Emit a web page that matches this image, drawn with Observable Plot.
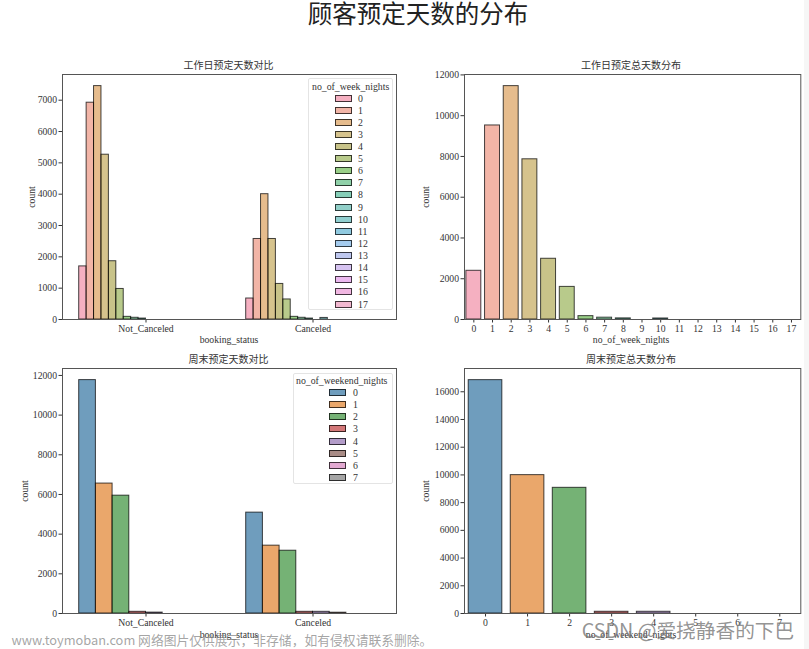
<!DOCTYPE html>
<html><head><meta charset="utf-8">
<script src="https://cdn.jsdelivr.net/npm/d3@7"></script>
<script src="https://cdn.jsdelivr.net/npm/@observablehq/plot@0.6"></script>
<style>
html,body{margin:0;padding:0;background:#fff}
#page{position:relative;width:809px;height:649px;overflow:hidden;font-family:"Liberation Serif","Noto Sans CJK SC",serif;color:#333}
#page svg{position:absolute;background:transparent;overflow:visible}
.t{position:absolute;white-space:nowrap;transform:translate(-50%,-50%);line-height:1}
.legend{position:absolute;background:rgba(255,255,255,.85);border:1px solid #e4e4e4;border-radius:2px;box-sizing:border-box}
.legend .sw{position:absolute;box-sizing:border-box;height:7px;width:17px;border:1px solid rgba(0,0,0,.72)}
.legend .lb,.legend .ttl{position:absolute;font-size:9.8px;line-height:1;white-space:nowrap;color:#333}
</style></head>
<body><div id="page"></div>
<script>
const statuses = ["Not_Canceled", "Canceled"];
const weekNights = ["0","1","2","3","4","5","6","7","8","9","10","11","12","13","14","15","16","17"];
const weekendNights = ["0","1","2","3","4","5","6","7"];

const weekNotCanceled = [1695,6920,7450,5260,1860,975,85,55,30,0,0,0,0,0,0,0,0,0];
const weekCanceled    = [670,2570,4000,2570,1135,640,85,55,30,0,50,0,0,0,0,0,0,0];
const weekTotal       = [2390,9520,11450,7860,2980,1600,165,90,55,0,50,0,0,0,0,0,0,0];

const weekendNotCanceled = [11765,6550,5940,85,45,0,0,0];
const weekendCanceled    = [5085,3420,3165,85,85,40,0,0];
const weekendTotal       = [16840,9985,9070,125,125,0,0,0];

const weekColors = ["#ec6f8e","#e7795f","#d18530","#b5922f","#9a9128","#7e9e2b","#45a727","#34ab63","#22a77d","#36a79a","#36a7aa","#349fc6","#5aa0e0","#8999e2","#b491e6","#db7de2","#e67ccb","#e87da9"];
const weekendColors = ["#3274a1","#e1812c","#3a923a","#c03d3e","#9372b2","#845b53","#d684bd","#7f7f7f"];

const weekTicks = [0,1000,2000,3000,4000,5000,6000,7000];
const weekTotalTicks = [0,2000,4000,6000,8000,10000,12000];
const weekendTicks = [0,2000,4000,6000,8000,10000,12000];
const weekendTotalTicks = [0,2000,4000,6000,8000,10000,12000,14000,16000];

const FONT = '"Liberation Serif","Noto Sans CJK SC",serif';
const TICK = 9.7;
const page = document.getElementById("page");
const PANEL = {w: 405, h: 290};

function place(svg, left, top) {
  svg.style.left = left + "px";
  svg.style.top = top + "px";
  page.appendChild(svg);
}
function text(s, x, y, size, extra) {
  const d = document.createElement("div");
  d.className = "t";
  d.textContent = s;
  d.style.cssText = `left:${x}px;top:${y}px;font-size:${size}px;` + (extra || "");
  page.appendChild(d);
}
const common = (left, right) => ({
  width: PANEL.w, height: PANEL.h,
  marginLeft: left, marginRight: right, marginTop: 19, marginBottom: 26,
  style: {fontFamily: FONT, fontSize: TICK + "px", color: "#333", background: "transparent"}
});
const barStyle = a => ({stroke: "#000", strokeOpacity: 0.72, strokeWidth: 1, fillOpacity: a, inset: 0});

function grouped(keys, colors, alpha, a, b, yMax, ticks, padOuter, labelOff, left, top) {
  const rows = [];
  keys.forEach((k, i) => {
    if (a[i] > 0) rows.push({status: statuses[0], k, v: a[i]});
    if (b[i] > 0) rows.push({status: statuses[1], k, v: b[i]});
  });
  const svg = Plot.plot({
    ...common(61.5, 8),
    fx: {domain: statuses, padding: 0, label: null},
    x: {domain: keys, axis: null, paddingInner: 0, paddingOuter: padOuter, round: false},
    y: {domain: [0, yMax]},
    color: {domain: keys, range: colors},
    marks: [
      Plot.barY(rows, {fx: "status", x: "k", y: "v", fill: "k", ...barStyle(alpha)}),
      Plot.axisFx({anchor: "bottom", tickSize: 3.5, tickPadding: 2, label: null, fontSize: TICK}),
      Plot.axisY({ticks, tickSize: 3.5, tickPadding: 2, label: "count", labelAnchor: "center", labelArrow: "none", labelOffset: labelOff, tickFormat: d => String(d), fontSize: TICK}),
      Plot.frame({facet: "super", stroke: "#555", strokeWidth: 1})
    ]
  });
  place(svg, left, top);
}
function simple(keys, colors, alpha, vals, yMax, ticks, labelOff, left, top) {
  const rows = keys.map((k, i) => ({k, v: vals[i]})).filter(d => d.v > 0);
  const svg = Plot.plot({
    ...common(59, 9.7),
    x: {domain: keys, paddingInner: 0.2, paddingOuter: 0.1, round: false},
    y: {domain: [0, yMax]},
    color: {domain: keys, range: colors},
    marks: [
      Plot.barY(rows, {x: "k", y: "v", fill: "k", ...barStyle(alpha)}),
      Plot.axisX({tickSize: 3.5, tickPadding: 2, label: null, fontSize: TICK}),
      Plot.axisY({ticks, tickSize: 3.5, tickPadding: 2, label: "count", labelAnchor: "center", labelArrow: "none", labelOffset: labelOff, tickFormat: d => String(d), fontSize: TICK}),
      Plot.frame({stroke: "#555", strokeWidth: 1})
    ]
  });
  place(svg, left, top);
}
function legend(title, keys, colors, alpha, box, titleY, firstY, stepY, swX, lbX, titleX) {
  const L = document.createElement("div");
  L.className = "legend";
  L.style.cssText = `left:${box[0]}px;top:${box[1]}px;width:${box[2]}px;height:${box[3]}px;`;
  const t = document.createElement("div");
  t.className = "ttl"; t.textContent = title;
  t.style.left = titleX + "px"; t.style.top = (titleY - 4.5) + "px";
  L.appendChild(t);
  keys.forEach((k, i) => {
    const y = firstY + i * stepY;
    const s = document.createElement("div");
    s.className = "sw";
    s.style.left = swX + "px"; s.style.top = (y - 3.5) + "px";
    s.style.background = d3.color(colors[i]).copy({opacity: alpha}).formatRgb();
    L.appendChild(s);
    const l = document.createElement("div");
    l.className = "lb"; l.textContent = k;
    l.style.left = lbX + "px"; l.style.top = (y - 4.5) + "px";
    L.appendChild(l);
  });
  page.appendChild(L);
}

grouped(weekNights, weekColors, 0.55, weekNotCanceled, weekCanceled, 7820, weekTicks, 2.25, 34, 0, 55);
simple(weekNights, weekColors, 0.55, weekTotal, 12020, weekTotalTicks, 42, 405, 55);
grouped(weekendNights, weekendColors, 0.7, weekendNotCanceled, weekendCanceled, 12350, weekendTicks, 1, 41, 0, 349);
simple(weekendNights, weekendColors, 0.7, weekendTotal, 17680, weekendTotalTicks, 42, 405, 349);

legend("no_of_week_nights", weekNights, weekColors, 0.55, [307.5, 78, 85.5, 232], 7.5, 19, 12.12, 26.5, 49.5, 3.5);
legend("no_of_weekend_nights", weekendNights, weekendColors, 0.7, [293, 372.5, 99.5, 111.5], 6.5, 18.8, 12.2, 35, 59, 2);

text("顾客预定天数的分布", 418, 15, 24.5, "color:#222;");
text("工作日预定天数对比", 228.5, 66, 10);
text("工作日预定总天数分布", 631, 66, 10);
text("周末预定天数对比", 228.5, 360, 10);
text("周末预定总天数分布", 631, 360, 10);
text("booking_status", 229, 340, TICK);
text("no_of_week_nights", 631, 340, TICK);
text("booking_status", 229, 635, TICK);
text("no_of_weekend_nights", 631, 635, TICK);

text("www.toymoban.com 网络图片仅供展示，非存储，如有侵权请联系删除。", 222, 640, 12.8, 'font-family:"Noto Sans CJK SC","Noto Sans",sans-serif;color:rgba(130,130,130,.72);');
text("CSDN @爱挠静香的下巴", 688, 630, 19.7, 'font-family:"Noto Sans CJK SC","Noto Sans",sans-serif;color:rgba(120,120,120,.8);');

const strip = document.createElement("div");
strip.style.cssText = "position:absolute;left:804px;top:0;width:5px;height:649px;background:#f6f6f6";
page.appendChild(strip);
</script>
</body></html>
